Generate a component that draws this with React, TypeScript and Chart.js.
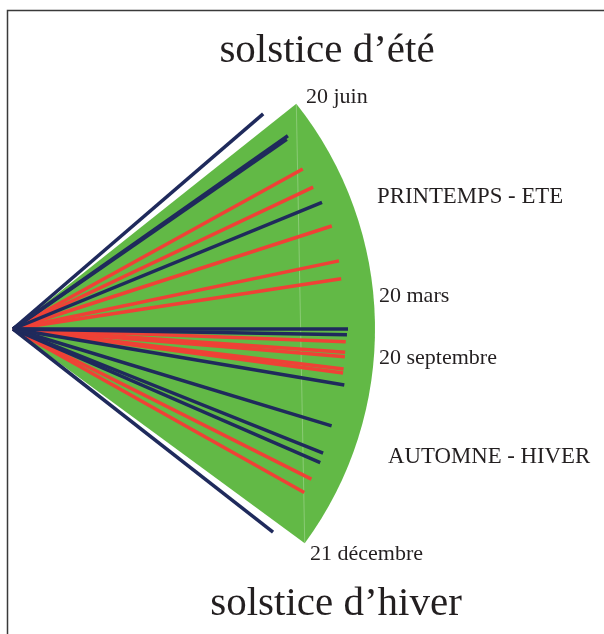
import React, { useEffect, useRef } from "react";
import { Chart, registerables } from "chart.js";

Chart.register(...registerables);

// Rays: direction (degrees, 0 = horizontal right, positive = up) and length
const redAngles = [28.9, 25.3, 17.9, 11.8, 8.7, -2.2, -4.0, -4.8, -6.9, -7.6, -26.7, -29.3];
const redLengths = [331, 332, 335, 333, 332, 333, 333, 333, 333, 333, 334, 334];
const navyAngles = [40.7, 35.1, 34.7, 22.3, 0, -1.0, -9.6, -16.9, -21.8, -23.5, -38.0];
const navyLengths = [330, 336, 333, 334, 335, 334, 336, 333, 334, 335, 330];

// Green sector (20 juin -> 21 décembre)
const sectorStartAngle = 38.5;
const sectorEndAngle = -36.3;
const sectorRadius = 362;

const titleTop = "solstice d\u2019été";
const titleBottom = "solstice d\u2019hiver";
const dateLabels = ["20 juin", "20 mars", "20 septembre", "21 décembre"];
const seasonLabels = ["PRINTEMPS - ETE", "AUTOMNE - HIVER"];

const RED = "#ef4136";
const NAVY = "#1f2a5c";
const GREEN = "#62b946";
const TEXT = "#231f20";

const toRad = (d: number) => (d * Math.PI) / 180;

function rayData(angle: number, len: number) {
  return [
    { x: 0, y: 0 },
    { x: len * Math.cos(toRad(angle)), y: len * Math.sin(toRad(angle)) },
  ];
}

const sectorPlugin = {
  id: "sector",
  beforeDatasetsDraw(chart: any) {
    const { ctx, scales } = chart;
    const xs = scales.x;
    const ys = scales.y;
    const cx = xs.getPixelForValue(0);
    const cy = ys.getPixelForValue(0);
    const r = xs.getPixelForValue(sectorRadius) - cx;
    ctx.save();
    ctx.fillStyle = GREEN;
    ctx.beginPath();
    ctx.moveTo(cx, cy);
    ctx.arc(cx, cy, r, -toRad(sectorStartAngle), -toRad(sectorEndAngle), false);
    ctx.closePath();
    ctx.fill();
    // faint seam between the two tips
    const t1x = xs.getPixelForValue(sectorRadius * Math.cos(toRad(sectorStartAngle)));
    const t1y = ys.getPixelForValue(sectorRadius * Math.sin(toRad(sectorStartAngle)));
    const t2x = xs.getPixelForValue(sectorRadius * Math.cos(toRad(sectorEndAngle)));
    const t2y = ys.getPixelForValue(sectorRadius * Math.sin(toRad(sectorEndAngle)));
    ctx.strokeStyle = "rgba(255,255,255,0.25)";
    ctx.lineWidth = 1;
    ctx.beginPath();
    ctx.moveTo(t1x, t1y);
    ctx.lineTo(t2x, t2y);
    ctx.stroke();
    ctx.restore();
  },
};

const decorPlugin = {
  id: "decor",
  afterDraw(chart: any) {
    const { ctx } = chart;
    ctx.save();
    // frame
    ctx.strokeStyle = "#3a3a3a";
    ctx.lineWidth = 1.5;
    ctx.beginPath();
    ctx.moveTo(7.5, 634);
    ctx.lineTo(7.5, 10.5);
    ctx.lineTo(604, 10.5);
    ctx.stroke();

    ctx.fillStyle = TEXT;
    ctx.textBaseline = "alphabetic";
    ctx.textAlign = "center";
    ctx.font = '41px "Liberation Serif", serif';
    ctx.fillText(titleTop, 327, 62);
    ctx.fillText(titleBottom, 336, 615);

    ctx.textAlign = "left";
    ctx.font = '22px "Liberation Serif", serif';
    ctx.fillText(dateLabels[0], 306, 103);
    ctx.fillText(dateLabels[1], 379, 302);
    ctx.fillText(dateLabels[2], 379, 364);
    ctx.fillText(dateLabels[3], 310, 560);
    ctx.font = '22.8px "Liberation Serif", serif';
    ctx.fillText(seasonLabels[0], 377, 203);
    ctx.fillText(seasonLabels[1], 388, 463);
    ctx.restore();
  },
};

export default function App() {
  const ref = useRef<HTMLCanvasElement | null>(null);

  useEffect(() => {
    document.body.style.margin = "0";
    const canvas = ref.current;
    if (!canvas) return;

    const datasets: any[] = [];
    redAngles.forEach((a, i) => {
      datasets.push({
        data: rayData(a, redLengths[i]),
        borderColor: RED,
        backgroundColor: RED,
        borderWidth: 3.5,
        showLine: true,
        pointRadius: 0,
        fill: false,
        order: 2,
      });
    });
    navyAngles.forEach((a, i) => {
      datasets.push({
        data: rayData(a, navyLengths[i]),
        borderColor: NAVY,
        backgroundColor: NAVY,
        borderWidth: 3.5,
        showLine: true,
        pointRadius: 0,
        fill: false,
        order: 1,
      });
    });

    const chart = new Chart(canvas, {
      type: "scatter",
      data: { datasets },
      options: {
        responsive: false,
        animation: false,
        layout: { padding: 0 },
        plugins: {
          legend: { display: false },
          tooltip: { enabled: false },
          title: { display: false },
        },
        scales: {
          x: { type: "linear", min: -13, max: 591, display: false },
          y: { type: "linear", min: -305, max: 329, display: false },
        },
      },
      plugins: [sectorPlugin, decorPlugin],
    });
    return () => chart.destroy();
  }, []);

  return (
    <div style={{ width: 604, height: 634, background: "#fff" }}>
      <canvas ref={ref} width={604} height={634} style={{ display: "block" }} />
    </div>
  );
}
